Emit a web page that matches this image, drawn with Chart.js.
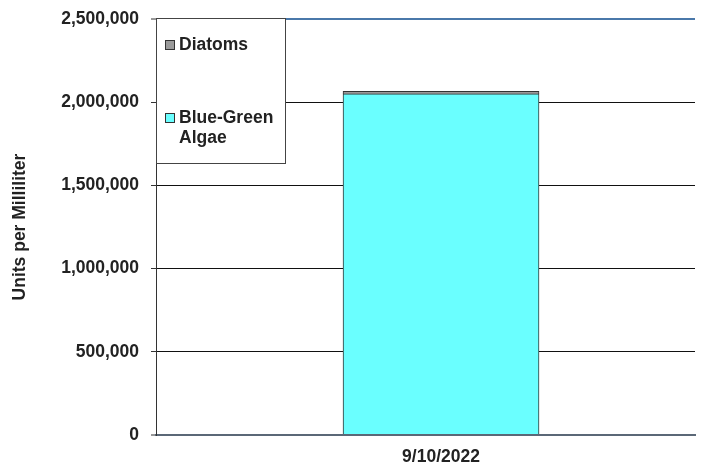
<!DOCTYPE html>
<html>
<head>
<meta charset="utf-8">
<script src="https://cdn.jsdelivr.net/npm/chart.js@4.4.0/dist/chart.umd.min.js"></script>
<style>
html,body{margin:0;padding:0;background:#fff;}
#wrap{width:701px;height:464px;position:relative;}
</style>
</head>
<body>
<div id="wrap"><canvas id="c" width="701" height="464"></canvas></div>
<script>
// ---- data ----
const categories = ['9/10/2022'];
const blueGreenAlgae = [2050000];
const diatoms = [15000];
const yTicks = [0, 500000, 1000000, 1500000, 2000000, 2500000];
const yTitle = 'Units per Milliliter';

const FONT = '"Liberation Sans", Arial, sans-serif';
const FS = 17.5;

const legendBox = {
  id: 'legendBox',
  afterDatasetsDraw(chart) {
    const ctx = chart.ctx;
    const a = chart.chartArea;
    const x0 = a.left, y0 = a.top - 1, w = 130, h = 146;
    ctx.save();
    ctx.fillStyle = '#fff';
    ctx.fillRect(x0, y0, w, h);
    ctx.strokeStyle = '#444';
    ctx.lineWidth = 1;
    ctx.strokeRect(x0 + 0.5, y0 + 0.5, w - 1, h - 1);
    ctx.font = 'bold ' + FS + 'px ' + FONT;
    ctx.textBaseline = 'middle';
    const items = chart.data.datasets.slice().reverse();
    const rowY = [y0 + 27, y0 + 100];
    items.forEach((ds, i) => {
      const cy = rowY[i];
      ctx.fillStyle = ds.backgroundColor;
      ctx.fillRect(x0 + 9, cy - 5, 10, 10);
      ctx.strokeStyle = '#333';
      ctx.strokeRect(x0 + 9.5, cy - 4.5, 9, 9);
      ctx.fillStyle = '#222';
      const tx = x0 + 23;
      const maxW = w - 24;
      const words = ds.label.split(' ');
      const lines = [];
      let cur = '';
      words.forEach(wd => {
        const t = cur ? cur + ' ' + wd : wd;
        if (ctx.measureText(t).width > maxW && cur) { lines.push(cur); cur = wd; } else cur = t;
      });
      lines.push(cur);
      lines.forEach((ln, k) => ctx.fillText(ln, tx, cy + k * 20));
    });
    ctx.restore();
  }
};

new Chart(document.getElementById('c'), {
  type: 'bar',
  data: {
    datasets: [
      {
        label: 'Blue-Green Algae',
        data: blueGreenAlgae.map((v, i) => ({x: i, y: v})),
        backgroundColor: '#6affff',
        borderColor: '#333',
        borderWidth: 1,
        barThickness: 196,
        stack: 's'
      },
      {
        label: 'Diatoms',
        data: diatoms.map((v, i) => ({x: i, y: v})),
        backgroundColor: '#9a9a9a',
        borderColor: '#333',
        borderWidth: 1,
        barThickness: 196,
        stack: 's'
      }
    ]
  },
  options: {
    responsive: false,
    animation: false,
    layout: {padding: {left: 0, right: 6, top: 19, bottom: 0}},
    plugins: {legend: {display: false}, tooltip: {enabled: false}},
    scales: {
      x: {
        type: 'linear',
        offset: false,
        stacked: true,
        min: -0.5288,
        max: 0.4712,
        afterBuildTicks: s => { s.ticks = categories.map((c, i) => ({value: i})); },
        afterFit: s => { s.height = 29; },
        ticks: {
          callback: v => categories[v],
          font: {family: FONT, size: FS, weight: 'bold', lineHeight: 1},
          color: '#222',
          padding: 13,
          maxRotation: 0
        },
        grid: {display: false, drawTicks: false},
        border: {color: '#5b6877', width: 2}
      },
      y: {
        stacked: true,
        min: 0,
        max: 2500000,
        afterBuildTicks: s => { s.ticks = yTicks.map(v => ({value: v})); },
        afterFit: s => { s.width = 156; s.paddingTop = 0; s.paddingBottom = 0; },
        ticks: {
          callback: v => v.toLocaleString('en-US'),
          font: {family: FONT, size: FS, weight: 'bold'},
          color: '#222',
          padding: 12
        },
        grid: {
          color: c => c.tick && c.tick.value === 2500000 ? '#4a78aa' : (c.tick && c.tick.value === 0 ? '#5b6877' : '#111'),
          lineWidth: c => c.tick && (c.tick.value === 2500000 || c.tick.value === 0) ? 2 : 1,
          tickLength: 5,
          tickColor: '#333',
          tickWidth: 1
        },
        border: {color: '#333', width: 1},
        title: {
          display: true,
          text: yTitle,
          font: {family: FONT, size: FS, weight: 'bold'},
          color: '#222',
          padding: {top: 10, bottom: 0}
        }
      }
    }
  },
  plugins: [legendBox]
});
</script>
</body>
</html>
